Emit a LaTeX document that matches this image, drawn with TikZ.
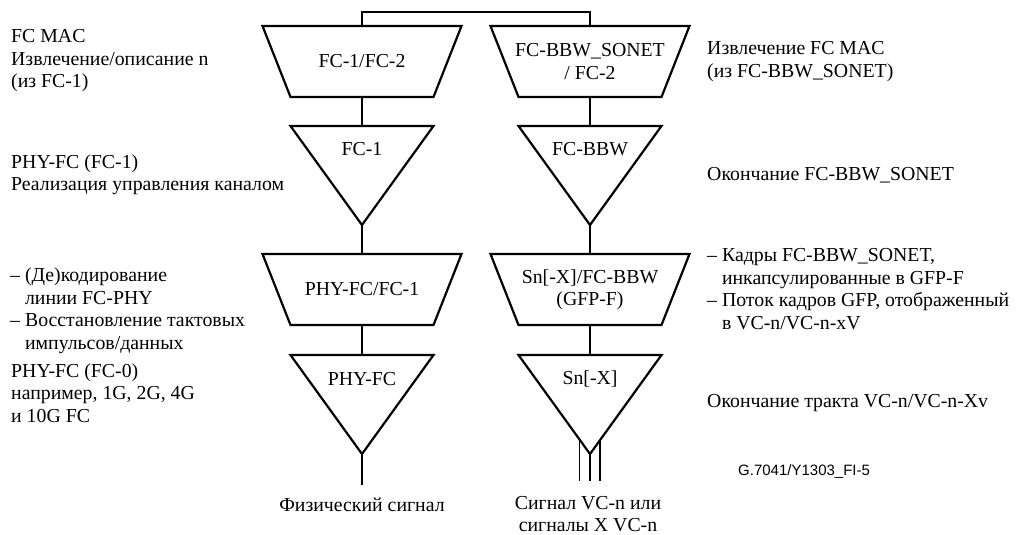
\documentclass[tikz,border=0pt]{standalone}
\usepackage{fontspec}
\setmainfont{Liberation Serif}
\newfontfamily\figfont{Liberation Sans}
\usetikzlibrary{calc}

\tikzset{
  shp/.style={line width=2.2pt},
  wire/.style={line width=1.1pt},
  txt/.style={font=\fontsize{19.8}{22.5}\selectfont, inner sep=0pt, align=left},
  ctxt/.style={txt, align=center},
  trapbox/.pic={
    \draw[shp] (-99.5,0) -- (99.5,0) -- (71.5,71) -- (-71.5,71) -- cycle;
    \coordinate (-top) at (0,0);
    \coordinate (-bot) at (0,71);
  },
  tribox/.pic={
    \draw[shp] (-71.5,0) -- (71.5,0) -- (0,99) -- cycle;
    \coordinate (-top) at (0,0);
    \coordinate (-bot) at (0,99);
    \coordinate (-tl) at (-71.5,0);
    \coordinate (-tr) at (71.5,0);
  }
}

\begin{document}
\begin{tikzpicture}[x=1pt,y=-1pt]
  \useasboundingbox (0,0) rectangle (1021,535);

  % left stack
  \pic (fc12) at (362,26) {trapbox};
  \pic (fc1) at (362,126) {tribox};
  \pic (phyfc1) at (362,254) {trapbox};
  \pic (phyfc) at (362,355) {tribox};
  \node[ctxt] (fc12txt) at (362,61.5) {FC-1/FC-2};
  \node[ctxt] (fc1txt) at (362,149) {FC-1};
  \node[ctxt] (phyfc1txt) at (362,289.5) {PHY-FC/FC-1};
  \node[ctxt] (phyfctxt) at (362,379) {PHY-FC};

  % right stack
  \pic (sonet) at (590,26) {trapbox};
  \pic (bbw) at (590,126) {tribox};
  \pic (gfpf) at (590,254) {trapbox};
  \pic (snx) at (590,355) {tribox};
  \node[ctxt] (sonettxt) at (590,61.5) {FC-BBW\_SONET\\/ FC-2};
  \node[ctxt] (bbwtxt) at (590,149) {FC-BBW};
  \node[ctxt] (gfpftxt) at (590,289.5) {Sn[-X]/FC-BBW\\(GFP-F)};
  \node[ctxt] (snxtxt) at (590,379) {Sn[-X]};

  % connectors
  \coordinate (physig) at (362,485);
  \coordinate (vcsig) at (590,481);
  \draw[wire] (fc12-top) -- ++(0,-14) -| (sonet-top);
  \draw[wire] (fc12-bot) -- (fc1-top);
  \draw[wire] (fc1-bot) -- (phyfc1-top);
  \draw[wire] (phyfc1-bot) -- (phyfc-top);
  \draw[wire] (phyfc-bot) -- (physig);
  \draw[wire] (sonet-bot) -- (bbw-top);
  \draw[wire] (bbw-bot) -- (gfpf-top);
  \draw[wire] (gfpf-bot) -- (snx-top);
  \draw[wire] (snx-bot) -- (vcsig);
  \draw[wire] ($(snx-bot)!0.15!(snx-tl)$) coordinate (vcl) -- (vcl |- vcsig);
  \draw[wire] ($(snx-bot)!0.14!(snx-tr)$) coordinate (vcr) -- (vcr |- vcsig);

  % side notes, left
  \node[txt, anchor=west] (macl) at (11,61) {FC MAC\\Извлечение/описание n\\(из FC-1)};
  \node[txt, anchor=west] (ctll) at (11,175) {PHY-FC (FC-1)\\Реализация управления каналом};
  \node[txt, anchor=west] (codl) at (10,311) {\begin{tabular}{@{}l@{ }l@{}}
    –&(Де)кодирование\\ &линии FC-PHY\\ –&Восстановление тактовых\\ &импульсов/данных\end{tabular}};
  \node[txt, anchor=west] (fc0l) at (11,393) {PHY-FC (FC-0)\\например, 1G, 2G, 4G\\и 10G FC};

  % side notes, right
  \node[txt, anchor=west] (macr) at (707,61.5) {Извлечение FC MAC\\(из FC-BBW\_SONET)};
  \node[txt, anchor=west] (bbwr) at (707,175) {Окончание FC-BBW\_SONET};
  \node[txt, anchor=west] (gfpr) at (707,291) {\begin{tabular}{@{}l@{ }l@{}}
    –&Кадры FC-BBW\_SONET,\\ &инкапсулированные в GFP-F\\ –&Поток кадров GFP, отображенный\\ &в VC-n/VC-n-xV\end{tabular}};
  \node[txt, anchor=west] (vcr) at (707,403) {Окончание тракта VC-n/VC-n-Xv};
  \node[anchor=west, inner sep=0pt, font=\figfont\fontsize{15}{18}\selectfont] (figid) at (738,472) {G.7041/Y1303\_FI-5};

  % bottom
  \node[ctxt] (physigtxt) at (362,505) {Физический сигнал};
  \node[ctxt] (vcsigtxt) at (588,514) {Сигнал VC-n или\\сигналы X VC-n};
\end{tikzpicture}
\end{document}
